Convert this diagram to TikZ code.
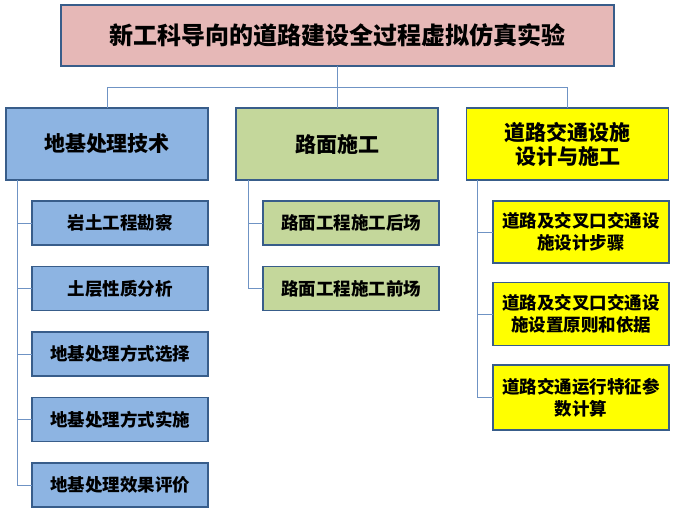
\documentclass[tikz,border=0pt]{standalone}
\usepackage{fontspec}
\setmainfont{Noto Sans CJK SC}
\usepackage{xcolor}
\usepackage{tikz}
\usetikzlibrary{positioning}

\definecolor{edgeblue}{HTML}{385D8A}
\definecolor{linkblue}{HTML}{6F93C4}
\definecolor{titlepink}{HTML}{E6B8B7}
\definecolor{soilblue}{HTML}{8DB4E2}
\definecolor{pavegreen}{HTML}{C4D79B}
\definecolor{signyellow}{HTML}{FFFF00}

\begin{document}
\begin{tikzpicture}[
  x=1pt, y=-1pt,
  node distance=20pt,
  box/.style={rectangle, draw=edgeblue, line width=1.6pt, outer sep=0pt,
              align=center, inner sep=2pt},
  topbox/.style={box, fill=titlepink, minimum width=553pt, minimum height=61pt,
                 font=\bfseries\fontsize{24}{28}\selectfont},
  mainbox/.style={box, minimum width=202pt, minimum height=72pt,
                  font=\bfseries\fontsize{21}{24}\selectfont},
  subbox/.style={box, minimum width=176pt, minimum height=44pt,
                 font=\bfseries\fontsize{17.5}{22}\selectfont},
  link/.style={draw=linkblue, line width=0.9pt}
]
\useasboundingbox (0,0) rectangle (675,512);

% title
\node[topbox] (root) at (337.5,35.2) {新工科导向的道路建设全过程虚拟仿真实验};

% first level
\node[mainbox, fill=soilblue] (soil) at (107,144) {地基处理技术};
\node[mainbox, fill=pavegreen] (pave) at (337,144) {路面施工};
\node[mainbox, fill=signyellow] (traffic) at (567.5,144) {道路交通设施\\设计与施工};

% second level
\node[subbox, fill=soilblue, anchor=north west] (soil1) at (32,201) {岩土工程勘察};
\node[subbox, fill=soilblue, below=21.5pt of soil1] (soil2) {土层性质分析};
\node[subbox, fill=soilblue, below=21.5pt of soil2] (soil3) {地基处理方式选择};
\node[subbox, fill=soilblue, below=21.5pt of soil3] (soil4) {地基处理方式实施};
\node[subbox, fill=soilblue, below=21.5pt of soil4] (soil5) {地基处理效果评价};

\node[subbox, fill=pavegreen, anchor=north west] (pave1) at (263,201) {路面工程施工后场};
\node[subbox, fill=pavegreen, below=21.5pt of pave1] (pave2) {路面工程施工前场};

\node[subbox, fill=signyellow, minimum height=62pt, anchor=north west] (traffic1) at (493,201) {道路及交叉口交通设\\施设计步骤};
\node[subbox, fill=signyellow, minimum height=63pt, below=19.5pt of traffic1] (traffic2) {道路及交叉口交通设\\施设置原则和依据};
\node[subbox, fill=signyellow, minimum height=65pt, below=19.5pt of traffic2] (traffic3) {道路交通运行特征参\\数计算};

% connectors
\coordinate (bus) at (0,87);
\draw[link] (root.south) -- (root.south |- bus);
\draw[link] (soil.north |- bus) -- (traffic.north |- bus);
\draw[link] (soil.north |- bus) -- (soil.north);
\draw[link] (pave.north |- bus) -- (pave.north);
\draw[link] (traffic.north |- bus) -- (traffic.north);

\foreach \n in {soil1,soil2,soil3,soil4,soil5}
  \draw[link] ([xshift=11pt]soil.south west) |- (\n.west);
\foreach \n in {pave1,pave2}
  \draw[link] ([xshift=12pt]pave.south west) |- (\n.west);
\foreach \n in {traffic1,traffic2,traffic3}
  \draw[link] ([xshift=11pt]traffic.south west) |- (\n.west);

\end{tikzpicture}
\end{document}
